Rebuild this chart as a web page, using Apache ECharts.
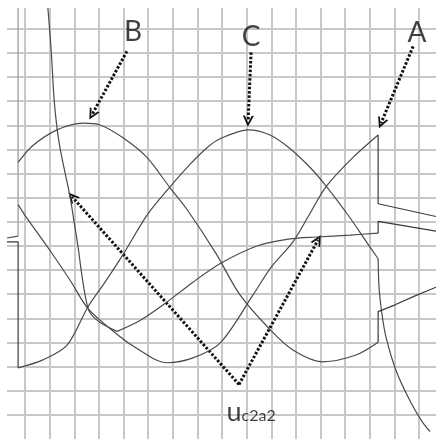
<!DOCTYPE html>
<html>
<head>
<meta charset="utf-8">
<script src="https://cdn.jsdelivr.net/npm/echarts@6/dist/echarts.min.js"></script>
<style>
html, body { margin: 0; padding: 0; background: #fff; }
#container { width: 436px; height: 439px; }
</style>
</head>
<body>
<div id="container"></div>
<script>
// everything is in grid divisions (x: time, y: level)
var curveA = [[-0.28, 8.71], [0, 8.27], [1.02, 6.80], [1.83, 5.58], [2.56, 4.40], [3.45, 3.58], [4.39, 2.85],
    [5.77, 2.16], [6.82, 2.36], [7.92, 2.97], [9.26, 4.97], [9.99, 6.11], [10.88, 7.17], [11.53, 8.27],
    [12.22, 9.45], [13.32, 10.67], [14.34, 11.60]];
var aFall = [[14.34, 11.60], [14.34, 8.75], [16.69, 8.22]];

var curveB = [[-0.28, 10.46], [0.32, 11.16], [1.30, 11.81], [2.36, 12.09], [3.05, 12.01], [3.98, 11.48],
    [4.95, 10.67], [5.89, 9.41], [6.58, 8.51], [7.76, 6.68], [8.73, 4.97], [9.91, 3.58], [10.88, 2.69],
    [12.10, 2.20], [13.44, 2.48], [14.34, 3.01]];
var bStep = [[14.34, 3.01], [14.34, 4.28], [15.03, 4.56], [15.84, 4.93], [16.69, 5.29]];

var cLead = [[-0.73, 7.17], [-0.28, 7.17], [-0.28, 1.95]];
var curveC = [[-0.28, 1.95], [0.73, 2.28], [1.71, 2.89], [2.56, 4.48], [3.25, 5.50], [3.98, 6.64], [4.95, 8.27],
    [5.89, 9.45], [6.70, 10.38], [7.39, 11.07], [7.92, 11.44], [9.06, 11.81], [9.95, 11.60], [10.72, 11.07],
    [11.57, 10.26], [12.22, 9.49], [13.16, 8.22], [13.81, 7.25], [14.34, 6.47]];
var cDecay = [[14.34, 6.47], [14.38, 5.25], [14.50, 4.15], [14.66, 3.22], [15.07, 1.83], [15.68, 0.49],
    [16.16, -0.33], [16.45, -0.69]];

var uDecay = [[0.93, 16.86], [1.06, 15.15], [1.18, 13.11], [1.30, 11.89], [1.42, 11.07], [1.62, 10.06],
    [1.83, 9.04], [1.99, 8.02], [2.15, 7.00], [2.31, 5.78], [2.48, 4.76], [2.64, 4.23], [3.05, 3.83], [3.74, 3.46]];
var uRise = [[3.74, 3.46], [4.67, 3.91], [5.77, 4.68], [6.82, 5.50], [8.00, 6.31], [9.42, 7.00], [10.76, 7.29],
    [11.82, 7.37], [13.20, 7.45], [14.34, 7.53]];
var uStep = [[14.34, 7.53], [14.34, 8.02], [16.69, 7.61]];

var leftEdge = [[-0.28, 16.86], [-0.28, 7.41]];
var leftLead = [[-0.73, 7.33], [-0.28, 7.41]];

var letters = [[4.39, 15.88, 'B'], [9.18, 15.64, 'C'], [15.92, 15.84, 'A']];
var uLabel = [[9.18, 0.1]];

var arrows = [
    [[4.14, 15.07], [2.72, 12.44]],
    [[9.18, 15.02], [9.06, 12.17]],
    [[15.76, 15.27], [14.46, 12.09]],
    [[8.69, 1.26], [1.91, 9.04]],
    [[8.69, 1.26], [11.90, 7.25]]
];

var dom = document.getElementById('container');
var myChart = echarts.init(dom);

function wave(data, smooth, color, width) {
    return {
        type: 'line',
        data: data,
        smooth: smooth,
        symbol: 'none',
        silent: true,
        lineStyle: {color: color || '#4a4a4a', width: width || 1.2}
    };
}

var gridLine = {show: true, showMinLine: false, showMaxLine: false, lineStyle: {color: '#c8c8c8', width: 2}};

var option = {
    animation: false,
    backgroundColor: '#fff',
    grid: {left: 0.375, right: 0, top: 8, bottom: -7.56},
    xAxis: {
        type: 'value', min: -1, max: 16.69, interval: 1,
        axisLine: {show: false}, axisTick: {show: false}, axisLabel: {show: false},
        splitLine: gridLine
    },
    yAxis: {
        type: 'value', min: -1, max: 16.86, interval: 1,
        axisLine: {show: false}, axisTick: {show: false}, axisLabel: {show: false},
        splitLine: gridLine
    },
    graphic: [{
        type: 'rect', z: 100,
        shape: {x: 0, y: 0, width: 7, height: 439},
        style: {fill: '#fff'}
    }],
    series: [
        wave(leftEdge, false, '#a8a8a8', 1.5),
        wave(leftLead, false),
        wave(curveA, 0.3),
        wave(aFall, false, '#3a3a3a'),
        wave(curveB, 0.3),
        wave(bStep, false, '#3a3a3a'),
        wave(cLead, false, '#3a3a3a'),
        wave(curveC, 0.3),
        wave(cDecay, 0.3),
        wave(uDecay, 0.3),
        wave(uRise, 0.3),
        wave(uStep, false, '#3a3a3a'),
        {
            type: 'lines',
            coordinateSystem: 'cartesian2d',
            silent: true,
            symbol: ['none', 'path://M0,10 L5,0 L10,10 L8.2,10 L5,3.6 L1.8,10 Z'],
            symbolSize: [12, 11],
            lineStyle: {color: '#111', width: 3, type: [2.5, 1.8], opacity: 1},
            data: arrows.map(function (a) { return {coords: a}; })
        },
        {
            type: 'scatter',
            silent: true,
            symbolSize: 0,
            data: letters,
            label: {
                show: true, position: 'inside',
                formatter: function (p) { return p.value[2]; },
                fontFamily: 'Lato', fontSize: 28, color: '#111'
            }
        },
        {
            type: 'scatter',
            silent: true,
            symbolSize: 0,
            data: uLabel,
            label: {
                show: true, position: 'inside',
                formatter: '{u|u}{s|c2a2}',
                rich: {
                    u: {fontFamily: 'Lato', fontSize: 27, color: '#111', lineHeight: 27, verticalAlign: 'bottom'},
                    s: {fontFamily: 'Lato', fontSize: 16, color: '#111', lineHeight: 16, verticalAlign: 'bottom', padding: [0, 0, 2.5, 0]}
                }
            }
        }
    ]
};

myChart.setOption(option);
</script>
</body>
</html>
